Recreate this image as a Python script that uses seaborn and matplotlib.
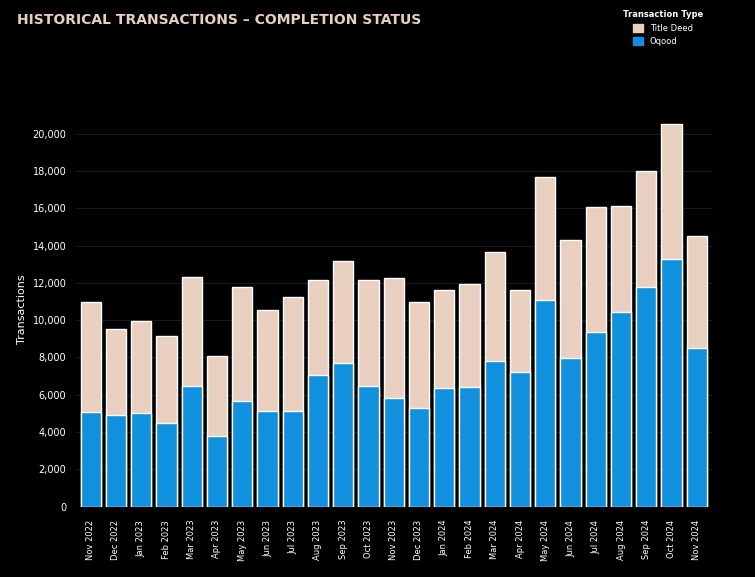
import matplotlib
matplotlib.use("Agg")
import matplotlib.pyplot as plt
import seaborn as sns
import pandas as pd
from matplotlib.patches import Patch

months = ["Nov 2022","Dec 2022","Jan 2023","Feb 2023","Mar 2023","Apr 2023","May 2023","Jun 2023",
          "Jul 2023","Aug 2023","Sep 2023","Oct 2023","Nov 2023","Dec 2023","Jan 2024","Feb 2024",
          "Mar 2024","Apr 2024","May 2024","Jun 2024","Jul 2024","Aug 2024","Sep 2024","Oct 2024","Nov 2024"]
total = [10970,9500,9950,9150,12300,8060,11800,10550,11250,12150,13200,12150,12250,11000,11600,11950,
         13650,11600,17700,14300,16070,16100,18000,20500,14500]
oqood = [5100,4900,5000,4500,6450,3800,5650,5150,5150,7050,7700,6450,5800,5300,6350,6400,
         7800,7200,11070,7950,9350,10430,11770,13280,8500]

sns.set_theme(style="dark")
plt.rcParams['font.family'] = ['DejaVu Sans']
fig = plt.figure(figsize=(7.55,5.77), dpi=100, facecolor="black")
ax = fig.add_axes([0.10, 0.122, 0.843, 0.685])
ax.set_facecolor("black")
df = pd.DataFrame({"Month": months, "Total": total, "Oqood": oqood})
sns.barplot(data=df, x="Month", y="Total", color="#E8CFC0", ax=ax, width=0.8, saturation=1)
sns.barplot(data=df, x="Month", y="Oqood", color="#1190DD", ax=ax, width=0.8, saturation=1)
ax.set_ylim(0, 21200)
ax.set_yticks(range(0, 20001, 2000))
ax.set_yticklabels([f"{v:,}" for v in range(0, 20001, 2000)], color="white", fontsize=7)
ax.tick_params(axis="x", rotation=90, labelsize=6, colors="white")
ax.tick_params(axis="y", colors="white", length=3)
ax.grid(axis="y", color="#1a1a1a", linewidth=0.8)
ax.set_axisbelow(True)
ax.set_xlabel("")
ax.set_ylabel("Transactions", color="white", fontsize=8)
for s in ax.spines.values():
    s.set_visible(False)
ax.set_xlim(-0.6, 24.6)
fig.text(0.022, 0.965, "HISTORICAL TRANSACTIONS – COMPLETION STATUS", color="#E8CFC0",
         fontsize=10, fontweight="bold", va="center")
leg = fig.legend(handles=[Patch(color="#E8CFC0", label="Title Deed"), Patch(color="#1190DD", label="Oqood")],
                 title="Transaction Type", loc="upper left", bbox_to_anchor=(0.815, 0.995),
                 frameon=False, fontsize=6, title_fontsize=6, handlelength=1.2, handleheight=1.2)
for t in leg.get_texts():
    t.set_color("white")
leg.get_title().set_color("white")
leg.get_title().set_fontweight("bold")
fig.savefig("out.png", facecolor="black")
